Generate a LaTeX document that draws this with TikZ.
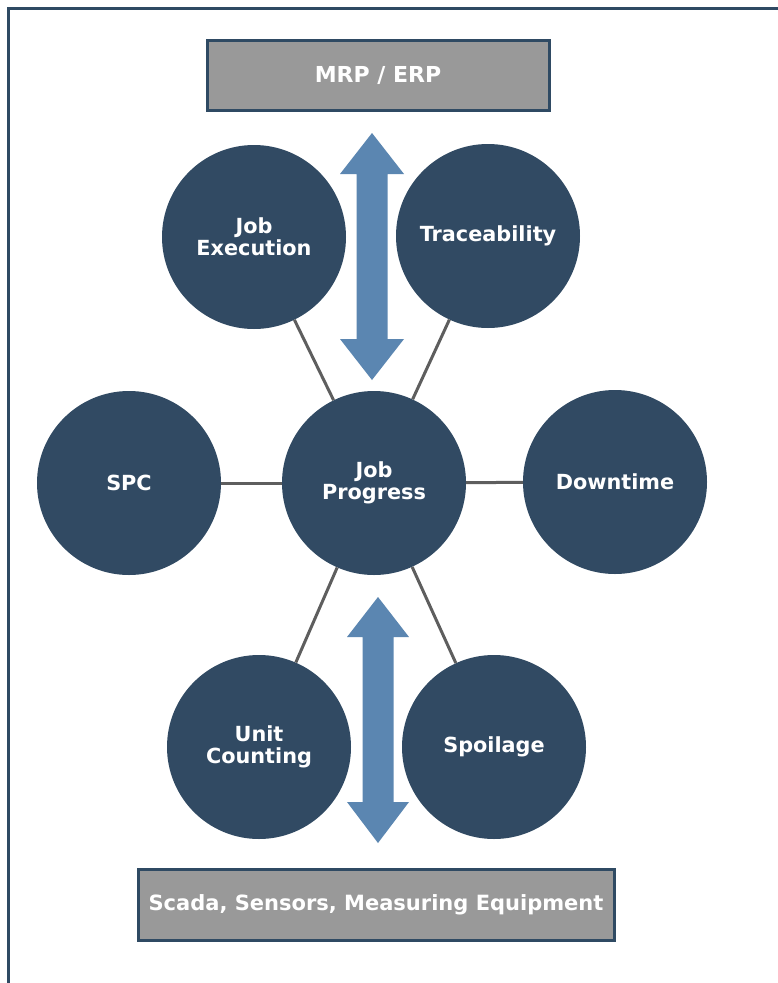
\documentclass[tikz,border=0pt]{standalone}
\usepackage{fontspec}
\setmainfont{DejaVu Sans}
\definecolor{navy}{HTML}{314A63}
\definecolor{framec}{HTML}{2F4A63}
\definecolor{arrowc}{HTML}{5B86B1}
\definecolor{boxgray}{HTML}{999999}
\definecolor{spokec}{HTML}{5E5E5E}
\tikzset{
  bubble/.style={circle, fill=navy, text=white, minimum size=184pt, inner sep=0pt,
    align=center, font=\bfseries\fontsize{20.8}{22}\selectfont},
  sysbox/.style={rectangle, fill=boxgray, draw=framec, line width=3pt, text=white,
    inner sep=0pt, font=\bfseries\fontsize{21}{24}\selectfont},
  spoke/.style={draw=spokec, line width=3pt},
  bigarrow/.style={fill=arrowc, draw=none},
}
\begin{document}
\begin{tikzpicture}[x=1pt,y=-1pt]
\useasboundingbox[fill=white] (0,0) rectangle (778,983);
% frame
\draw[framec, line width=3.5pt] (8.5,983) -- (8.5,8.5) -- (778,8.5);
% system boxes
\node[sysbox, minimum width=342pt, minimum height=70pt, font=\bfseries\fontsize{22}{24}\selectfont] (mrp) at (378,75) {MRP / ERP};
\node[sysbox, minimum width=476pt, minimum height=71pt] (scada) at (376,905) {Scada, Sensors, Measuring Equipment};
% bubbles
\node[bubble] (jp) at (374,483) {Job\\Progress};
\node[bubble] (je) at (254,237) {Job\\Execution};
\node[bubble] (tr) at (488,236) {Traceability};
\node[bubble] (spc) at (129,483) {SPC};
\node[bubble] (dt) at (615,482) {Downtime};
\node[bubble] (uc) at (259,747) {Unit\\Counting};
\node[bubble] (sp) at (494,747) {Spoilage};
% spokes
\foreach \n in {je,tr,spc,dt,uc,sp}{
  \draw[spoke] (jp) -- (\n);
}
% arrows
\fill[bigarrow] (372,133) -- (404,174) -- (387.5,174) -- (387.5,339) -- (404,339)
  -- (372,380) -- (340,339) -- (356.5,339) -- (356.5,174) -- (340,174) -- cycle;
\fill[bigarrow] (378,597) -- (409,637) -- (393.5,637) -- (393.5,802) -- (409,802)
  -- (378,843) -- (347,802) -- (362.5,802) -- (362.5,637) -- (347,637) -- cycle;
\end{tikzpicture}
\end{document}
